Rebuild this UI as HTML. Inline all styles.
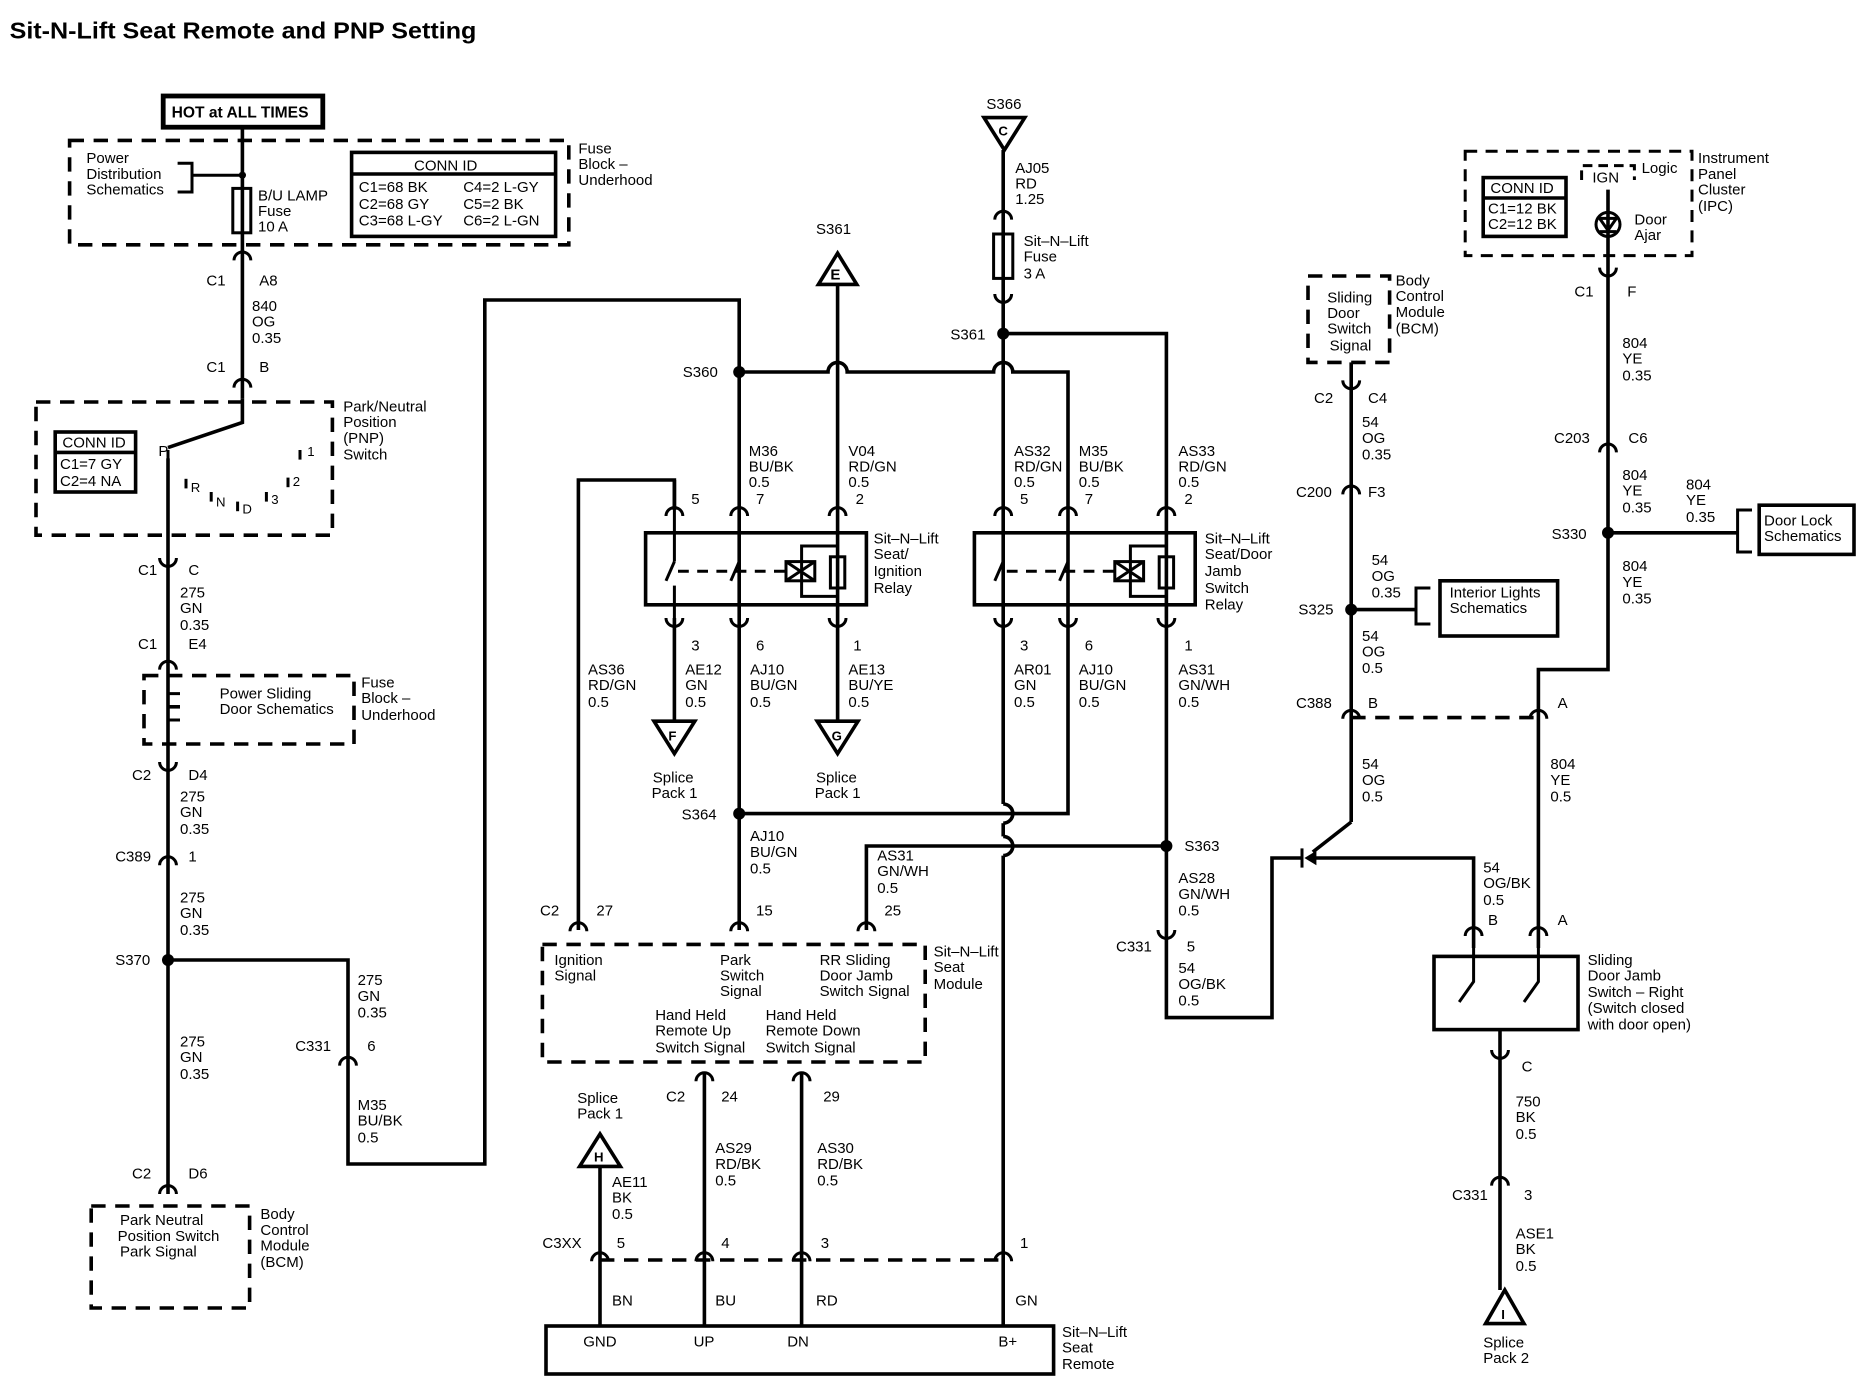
<!DOCTYPE html>
<html><head><meta charset="utf-8"><style>
html,body{margin:0;padding:0;background:#fff;}
svg{display:block;}
text{font-family:"Liberation Sans",Arial,sans-serif;font-size:12.5px;fill:#000;}
.b{font-weight:bold;}
</style></head><body>
<svg width="1872" height="1392" viewBox="0 0 1560 1160" xmlns="http://www.w3.org/2000/svg">
<defs>
<path id="cu" d="M-7,5 A7,7 0 0 1 7,5" fill="none" stroke="#000" stroke-width="2.5"/>
<path id="cd" d="M-7,-5 A7,7 0 0 0 7,-5" fill="none" stroke="#000" stroke-width="2.5"/>
</defs>
<rect width="1560" height="1160" fill="#fff"/>
<text x="8" y="32" class="b" style="font-size:19px" textLength="389" lengthAdjust="spacingAndGlyphs">Sit-N-Lift Seat Remote and PNP Setting</text>

<g fill="none" stroke="#000" stroke-width="3">
<rect x="136" y="80" width="133" height="26" stroke-width="4"/>
<line x1="202" y1="106" x2="202" y2="332"/>
<polyline points="202,332 202,352 140,373"/>
<line x1="140" y1="382" x2="140" y2="995"/>
<rect x="194" y="157" width="15" height="37" stroke-width="2.5"/>
<polyline points="202,146 160,146" stroke-width="2.5"/>
<polyline points="148,136 160,136 160,160 148,160" stroke-width="2.5"/>
<polyline points="140,800 290,800 290,970 404,970 404,250 616,250 616,678 890,678 890,515"/>
<path d="M616,310 L690,310 A8,8 0 0 1 706,310 L828,310 A8,8 0 0 1 844,310 L890,310 L890,515"/>
<line x1="698" y1="237" x2="698" y2="600"/>
<polyline points="562,425 562,400 482,400 482,775"/>
<line x1="562" y1="515" x2="562" y2="600"/>
<line x1="616" y1="678" x2="616" y2="775"/>
<line x1="836" y1="125" x2="836" y2="670"/>
<path d="M836,670 A8,8 0 0 1 836,686" />
<line x1="836" y1="686" x2="836" y2="697"/>
<path d="M836,697 A8,8 0 0 1 836,713"/>
<line x1="836" y1="713" x2="836" y2="1105"/>
<rect x="828" y="195" width="16" height="37" stroke-width="2.5"/>
<polyline points="836,278 972,278 972,848 1060,848 1060,715 1085,715"/>
<polyline points="972,705 722,705 722,775"/>
<line x1="562" y1="400" x2="562" y2="425"/>
<line x1="587" y1="895" x2="587" y2="1105"/>
<line x1="668" y1="895" x2="668" y2="1105"/>
<line x1="500" y1="972" x2="500" y2="1105"/>
<rect x="455" y="1105" width="423" height="40"/>
<line x1="1126" y1="302" x2="1126" y2="685"/>
<line x1="1126" y1="685" x2="1094" y2="710"/>
<polyline points="1090,715 1228,715 1228,790"/>
<polyline points="1340,158 1340,558 1282,558 1282,790"/>
<polyline points="1340,444 1448,444"/>
<polyline points="1460,425 1448,425 1448,460 1460,460" stroke-width="2.5"/>
<rect x="1466" y="421" width="79" height="41"/>
<polyline points="1126,508 1180,508"/>
<polyline points="1192,490 1180,490 1180,520 1192,520" stroke-width="2.5"/>
<rect x="1200" y="484" width="98" height="46"/>
<rect x="1195" y="797" width="120" height="61"/>
<line x1="1250" y1="858" x2="1250" y2="1075"/>
<polyline points="1228,790 1228,818 1216,835" stroke-width="2.5"/>
<polyline points="1282,790 1282,818 1270,835" stroke-width="2.5"/>
<rect x="538" y="444" width="184" height="60"/>
<rect x="812" y="444" width="184" height="60"/>
</g>

<g fill="none" stroke="#000" stroke-width="2.5">
<line x1="562" y1="425" x2="562" y2="468"/><line x1="562" y1="468" x2="555" y2="484"/><line x1="562" y1="488" x2="562" y2="515"/>
<line x1="616" y1="425" x2="616" y2="468"/><line x1="616" y1="468" x2="609" y2="484"/><line x1="616" y1="488" x2="616" y2="515"/>
<line x1="698" y1="504" x2="698" y2="600"/>
<line x1="565" y1="476" x2="655" y2="476" stroke-dasharray="9,7"/>
<rect x="655" y="468" width="24" height="16"/><path d="M655,468 L679,484 M679,468 L655,484"/>
<rect x="692" y="464" width="12" height="26"/>
<polyline points="698,455 668,455 668,497 698,497"/>
<line x1="836" y1="425" x2="836" y2="468"/><line x1="836" y1="468" x2="829" y2="484"/><line x1="836" y1="488" x2="836" y2="515"/>
<line x1="890" y1="425" x2="890" y2="468"/><line x1="890" y1="468" x2="883" y2="484"/><line x1="890" y1="488" x2="890" y2="515"/>
<line x1="972" y1="425" x2="972" y2="515"/>
<line x1="839" y1="476" x2="929" y2="476" stroke-dasharray="9,7"/>
<rect x="929" y="468" width="24" height="16"/><path d="M929,468 L953,484 M953,468 L929,484"/>
<rect x="966" y="464" width="12" height="26"/>
<polyline points="972,455 942,455 942,497 972,497"/>
<rect x="1221" y="126" width="189" height="87" stroke-dasharray="10,7"/>
<polyline points="1318,150 1318,138 1362,138 1362,150" stroke-dasharray="8,5"/>
<circle cx="1340" cy="187" r="10"/>
<path d="M1333,182 L1347,182 L1340,192 Z M1333,193 L1347,193"/>
<line x1="140" y1="375" x2="140" y2="385"/>
<line x1="250" y1="375" x2="250" y2="383"/><line x1="240" y1="398" x2="240" y2="406"/><line x1="222" y1="410" x2="222" y2="418"/><line x1="198" y1="418" x2="198" y2="426"/><line x1="176" y1="410" x2="176" y2="418"/><line x1="155" y1="399" x2="155" y2="407"/>
<line x1="1085" y1="707" x2="1085" y2="723"/>
</g>
<path d="M1087,715 L1097,709 L1097,721 Z" fill="#000"/>

<g fill="none" stroke="#000" stroke-width="3" stroke-dasharray="12,8">
<rect x="58" y="117" width="416" height="87"/>
<rect x="30" y="335" width="247" height="111"/>
<rect x="120" y="563" width="175" height="57"/>
<rect x="76" y="1005" width="132" height="85"/>
<rect x="452" y="787" width="319" height="98"/>
<rect x="1090" y="230" width="68" height="72"/>
<line x1="500" y1="1050" x2="836" y2="1050"/>
<line x1="1126" y1="598" x2="1282" y2="598"/>
</g>
<g fill="none" stroke="#000" stroke-width="3">
<polyline points="150,578 140,578 140,600 150,600" stroke-width="2.5"/>
<line x1="140" y1="589" x2="150" y2="589"/>
</g>

<g fill="none" stroke="#000" stroke-width="3">
<rect x="293" y="127" width="170" height="70"/><line x1="293" y1="145" x2="463" y2="145"/>
<rect x="46" y="360" width="67" height="50"/><line x1="46" y1="377" x2="113" y2="377"/>
<rect x="1236" y="148" width="69" height="49"/><line x1="1236" y1="165" x2="1305" y2="165"/>
</g>

<g fill="#fff" stroke="#000" stroke-width="3">
<path d="M698,211 L714,237 L682,237 Z"/>
<path d="M820,98 L854,98 L837,125 Z"/>
<path d="M545,601 L579,601 L562,628 Z"/>
<path d="M681,601 L715,601 L698,628 Z"/>
<path d="M500,945 L517,972 L483,972 Z"/>
<path d="M1254,1075 L1270,1103 L1238,1103 Z"/>
</g>

<g fill="#000">
<circle cx="202" cy="146" r="3"/>
<circle cx="140" cy="800" r="5"/><circle cx="616" cy="310" r="5"/><circle cx="836" cy="278" r="5"/>
<circle cx="616" cy="678" r="5"/><circle cx="972" cy="705" r="5"/><circle cx="1126" cy="508" r="5"/><circle cx="1340" cy="444" r="5"/>
</g>

<g>
<use href="#cu" x="202" y="212"/><use href="#cu" x="202" y="318"/>
<use href="#cd" x="140" y="470"/><use href="#cu" x="140" y="553"/><use href="#cd" x="140" y="640"/><use href="#cu" x="140" y="716"/>
<use href="#cu" x="290" y="883"/><use href="#cu" x="140" y="990"/>
<use href="#cu" x="562" y="425"/><use href="#cu" x="616" y="425"/><use href="#cu" x="698" y="425"/>
<use href="#cd" x="562" y="520"/><use href="#cd" x="616" y="520"/><use href="#cd" x="698" y="520"/>
<use href="#cu" x="836" y="425"/><use href="#cu" x="890" y="425"/><use href="#cu" x="972" y="425"/>
<use href="#cd" x="836" y="520"/><use href="#cd" x="890" y="520"/><use href="#cd" x="972" y="520"/>
<use href="#cu" x="836" y="178"/><use href="#cd" x="836" y="250"/>
<use href="#cd" x="972" y="780"/>
<use href="#cu" x="482" y="771"/><use href="#cu" x="616" y="771"/><use href="#cu" x="722" y="771"/>
<use href="#cu" x="587" y="896"/><use href="#cu" x="668" y="896"/>
<use href="#cu" x="500" y="1046"/><use href="#cu" x="587" y="1046"/><use href="#cu" x="668" y="1046"/><use href="#cu" x="836" y="1046"/>
<use href="#cd" x="1126" y="322"/><use href="#cu" x="1126" y="407"/><use href="#cu" x="1126" y="594"/><use href="#cu" x="1282" y="594"/>
<use href="#cd" x="1340" y="228"/><use href="#cu" x="1340" y="372"/>
<use href="#cu" x="1228" y="775"/><use href="#cu" x="1282" y="775"/>
<use href="#cd" x="1250" y="880"/><use href="#cu" x="1250" y="983"/>
</g>

<g>
<text x="143" y="98" class="b" style="font-size:13px">HOT at ALL TIMES</text>
<text x="72" y="136">Power</text><text x="72" y="149">Distribution</text><text x="72" y="162">Schematics</text>
<text x="215" y="167">B/U LAMP</text><text x="215" y="180">Fuse</text><text x="215" y="193">10 A</text>
<text x="345" y="142">CONN ID</text>
<text x="299" y="160">C1=68 BK</text><text x="386" y="160">C4=2 L-GY</text>
<text x="299" y="174">C2=68 GY</text><text x="386" y="174">C5=2 BK</text>
<text x="299" y="188">C3=68 L-GY</text><text x="386" y="188">C6=2 L-GN</text>
<text x="482" y="128">Fuse</text><text x="482" y="141">Block –</text><text x="482" y="154">Underhood</text>
<text x="172" y="238">C1</text><text x="216" y="238">A8</text>
<text x="210" y="259">840</text><text x="210" y="272">OG</text><text x="210" y="286">0.35</text>
<text x="172" y="310">C1</text><text x="216" y="310">B</text>
<text x="286" y="343">Park/Neutral</text><text x="286" y="356">Position</text><text x="286" y="369">(PNP)</text><text x="286" y="383">Switch</text>
<text x="52" y="373">CONN ID</text><text x="50" y="391">C1=7 GY</text><text x="50" y="405">C2=4 NA</text>
<text x="132" y="380">P</text><text x="256" y="380" style="font-size:11px">1</text><text x="244" y="405" style="font-size:11px">2</text><text x="226" y="420" style="font-size:11px">3</text>
<text x="202" y="428" style="font-size:11px">D</text><text x="180" y="422" style="font-size:11px">N</text><text x="159" y="410" style="font-size:11px">R</text>
<text x="115" y="479">C1</text><text x="157" y="479">C</text>
<text x="150" y="498">275</text><text x="150" y="511">GN</text><text x="150" y="525">0.35</text>
<text x="115" y="541">C1</text><text x="157" y="541">E4</text>
<text x="183" y="582">Power Sliding</text><text x="183" y="595">Door Schematics</text>
<text x="301" y="573">Fuse</text><text x="301" y="586">Block –</text><text x="301" y="600">Underhood</text>
<text x="110" y="650">C2</text><text x="157" y="650">D4</text>
<text x="150" y="668">275</text><text x="150" y="681">GN</text><text x="150" y="695">0.35</text>
<text x="96" y="718">C389</text><text x="157" y="718">1</text>
<text x="150" y="752">275</text><text x="150" y="765">GN</text><text x="150" y="779">0.35</text>
<text x="96" y="804">S370</text>
<text x="298" y="821">275</text><text x="298" y="834">GN</text><text x="298" y="848">0.35</text>
<text x="246" y="876">C331</text><text x="306" y="876">6</text>
<text x="150" y="872">275</text><text x="150" y="885">GN</text><text x="150" y="899">0.35</text>
<text x="298" y="925">M35</text><text x="298" y="938">BU/BK</text><text x="298" y="952">0.5</text>
<text x="110" y="982">C2</text><text x="157" y="982">D6</text>
<text x="100" y="1021">Park Neutral</text><text x="98" y="1034">Position Switch</text><text x="100" y="1047">Park Signal</text>
<text x="217" y="1016">Body</text><text x="217" y="1029">Control</text><text x="217" y="1042">Module</text><text x="217" y="1056">(BCM)</text>

<text x="680" y="195">S361</text><text x="692" y="233" class="b">E</text>
<text x="569" y="314">S360</text>
<text x="624" y="380">M36</text><text x="624" y="393">BU/BK</text><text x="624" y="406">0.5</text>
<text x="707" y="380">V04</text><text x="707" y="393">RD/GN</text><text x="707" y="406">0.5</text>
<text x="576" y="420">5</text><text x="630" y="420">7</text><text x="713" y="420">2</text>
<text x="728" y="453">Sit–N–Lift</text><text x="728" y="466">Seat/</text><text x="728" y="480">Ignition</text><text x="728" y="494">Relay</text>
<text x="576" y="542">3</text><text x="630" y="542">6</text><text x="711" y="542">1</text>
<text x="490" y="562">AS36</text><text x="490" y="575">RD/GN</text><text x="490" y="589">0.5</text>
<text x="571" y="562">AE12</text><text x="571" y="575">GN</text><text x="571" y="589">0.5</text>
<text x="625" y="562">AJ10</text><text x="625" y="575">BU/GN</text><text x="625" y="589">0.5</text>
<text x="707" y="562">AE13</text><text x="707" y="575">BU/YE</text><text x="707" y="589">0.5</text>
<text x="557" y="617" class="b" style="font-size:11px">F</text><text x="693" y="617" class="b" style="font-size:11px">G</text>
<text x="544" y="652">Splice</text><text x="543" y="665">Pack 1</text>
<text x="680" y="652">Splice</text><text x="679" y="665">Pack 1</text>
<text x="568" y="683">S364</text>
<text x="625" y="701">AJ10</text><text x="625" y="714">BU/GN</text><text x="625" y="728">0.5</text>

<text x="822" y="91">S366</text><text x="832" y="113" class="b" style="font-size:11px">C</text>
<text x="846" y="144">AJ05</text><text x="846" y="157">RD</text><text x="846" y="170">1.25</text>
<text x="853" y="205">Sit–N–Lift</text><text x="853" y="218">Fuse</text><text x="853" y="232">3 A</text>
<text x="792" y="283">S361</text>
<text x="845" y="380">AS32</text><text x="845" y="393">RD/GN</text><text x="845" y="406">0.5</text>
<text x="899" y="380">M35</text><text x="899" y="393">BU/BK</text><text x="899" y="406">0.5</text>
<text x="982" y="380">AS33</text><text x="982" y="393">RD/GN</text><text x="982" y="406">0.5</text>
<text x="850" y="420">5</text><text x="904" y="420">7</text><text x="987" y="420">2</text>
<text x="1004" y="453">Sit–N–Lift</text><text x="1004" y="466">Seat/Door</text><text x="1004" y="480">Jamb</text><text x="1004" y="494">Switch</text><text x="1004" y="508">Relay</text>
<text x="850" y="542">3</text><text x="904" y="542">6</text><text x="987" y="542">1</text>
<text x="845" y="562">AR01</text><text x="845" y="575">GN</text><text x="845" y="589">0.5</text>
<text x="899" y="562">AJ10</text><text x="899" y="575">BU/GN</text><text x="899" y="589">0.5</text>
<text x="982" y="562">AS31</text><text x="982" y="575">GN/WH</text><text x="982" y="589">0.5</text>
<text x="987" y="709">S363</text>
<text x="731" y="717">AS31</text><text x="731" y="730">GN/WH</text><text x="731" y="744">0.5</text>
<text x="982" y="736">AS28</text><text x="982" y="749">GN/WH</text><text x="982" y="763">0.5</text>
<text x="930" y="793">C331</text><text x="989" y="793">5</text>
<text x="982" y="811">54</text><text x="982" y="824">OG/BK</text><text x="982" y="838">0.5</text>

<text x="450" y="763">C2</text><text x="497" y="763">27</text><text x="630" y="763">15</text><text x="737" y="763">25</text>
<text x="462" y="804">Ignition</text><text x="462" y="817">Signal</text>
<text x="600" y="804">Park</text><text x="600" y="817">Switch</text><text x="600" y="830">Signal</text>
<text x="683" y="804">RR Sliding</text><text x="683" y="817">Door Jamb</text><text x="683" y="830">Switch Signal</text>
<text x="778" y="797">Sit–N–Lift</text><text x="778" y="810">Seat</text><text x="778" y="824">Module</text>
<text x="546" y="850">Hand Held</text><text x="546" y="863">Remote Up</text><text x="546" y="877">Switch Signal</text>
<text x="638" y="850">Hand Held</text><text x="638" y="863">Remote Down</text><text x="638" y="877">Switch Signal</text>
<text x="555" y="918">C2</text><text x="601" y="918">24</text><text x="686" y="918">29</text>
<text x="481" y="919">Splice</text><text x="481" y="932">Pack 1</text>
<text x="495" y="968" class="b" style="font-size:11px">H</text>
<text x="596" y="961">AS29</text><text x="596" y="974">RD/BK</text><text x="596" y="988">0.5</text>
<text x="681" y="961">AS30</text><text x="681" y="974">RD/BK</text><text x="681" y="988">0.5</text>
<text x="510" y="989">AE11</text><text x="510" y="1002">BK</text><text x="510" y="1016">0.5</text>
<text x="452" y="1040">C3XX</text><text x="514" y="1040">5</text><text x="601" y="1040">4</text><text x="684" y="1040">3</text><text x="850" y="1040">1</text>
<text x="510" y="1088">BN</text><text x="596" y="1088">BU</text><text x="680" y="1088">RD</text><text x="846" y="1088">GN</text>
<text x="486" y="1122">GND</text><text x="578" y="1122">UP</text><text x="656" y="1122">DN</text><text x="832" y="1122">B+</text>
<text x="885" y="1114">Sit–N–Lift</text><text x="885" y="1127">Seat</text><text x="885" y="1141">Remote</text>

<text x="1106" y="252">Sliding</text><text x="1106" y="265">Door</text><text x="1106" y="278">Switch</text><text x="1108" y="292">Signal</text>
<text x="1163" y="238">Body</text><text x="1163" y="251">Control</text><text x="1163" y="264">Module</text><text x="1163" y="278">(BCM)</text>
<text x="1095" y="336">C2</text><text x="1140" y="336">C4</text>
<text x="1135" y="356">54</text><text x="1135" y="369">OG</text><text x="1135" y="383">0.35</text>
<text x="1080" y="414">C200</text><text x="1140" y="414">F3</text>
<text x="1143" y="471">54</text><text x="1143" y="484">OG</text><text x="1143" y="498">0.35</text>
<text x="1082" y="512">S325</text>
<text x="1208" y="498">Interior Lights</text><text x="1208" y="511">Schematics</text>
<text x="1135" y="534">54</text><text x="1135" y="547">OG</text><text x="1135" y="561">0.5</text>
<text x="1080" y="590">C388</text><text x="1140" y="590">B</text><text x="1298" y="590">A</text>
<text x="1135" y="641">54</text><text x="1135" y="654">OG</text><text x="1135" y="668">0.5</text>
<text x="1292" y="641">804</text><text x="1292" y="654">YE</text><text x="1292" y="668">0.5</text>
<text x="1236" y="727">54</text><text x="1236" y="740">OG/BK</text><text x="1236" y="754">0.5</text>
<text x="1240" y="771">B</text><text x="1298" y="771">A</text>
<text x="1323" y="804">Sliding</text><text x="1323" y="817">Door Jamb</text><text x="1323" y="831">Switch – Right</text><text x="1323" y="844">(Switch closed</text><text x="1323" y="858">with door open)</text>
<text x="1268" y="893">C</text>
<text x="1263" y="922">750</text><text x="1263" y="935">BK</text><text x="1263" y="949">0.5</text>
<text x="1210" y="1000">C331</text><text x="1270" y="1000">3</text>
<text x="1263" y="1032">ASE1</text><text x="1263" y="1045">BK</text><text x="1263" y="1059">0.5</text>
<text x="1251" y="1099" class="b" style="font-size:11px">I</text>
<text x="1236" y="1123">Splice</text><text x="1236" y="1136">Pack 2</text>

<text x="1242" y="161">CONN ID</text><text x="1240" y="178">C1=12 BK</text><text x="1240" y="191">C2=12 BK</text>
<text x="1327" y="152">IGN</text><text x="1368" y="144">Logic</text>
<text x="1362" y="187">Door</text><text x="1362" y="200">Ajar</text>
<text x="1415" y="136">Instrument</text><text x="1415" y="149">Panel</text><text x="1415" y="162">Cluster</text><text x="1415" y="176">(IPC)</text>
<text x="1312" y="247">C1</text><text x="1356" y="247">F</text>
<text x="1352" y="290">804</text><text x="1352" y="303">YE</text><text x="1352" y="317">0.35</text>
<text x="1295" y="369">C203</text><text x="1357" y="369">C6</text>
<text x="1352" y="400">804</text><text x="1352" y="413">YE</text><text x="1352" y="427">0.35</text>
<text x="1405" y="408">804</text><text x="1405" y="421">YE</text><text x="1405" y="435">0.35</text>
<text x="1293" y="449">S330</text>
<text x="1470" y="438">Door Lock</text><text x="1470" y="451">Schematics</text>
<text x="1352" y="476">804</text><text x="1352" y="489">YE</text><text x="1352" y="503">0.35</text>
</g>
</svg>
</body></html>
